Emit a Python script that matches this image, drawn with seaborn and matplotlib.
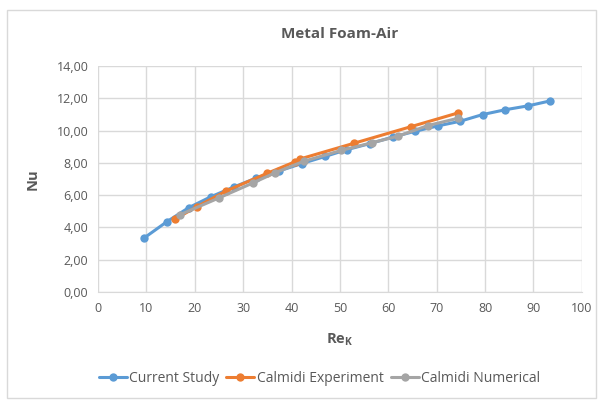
import pandas as pd
import seaborn as sns
import matplotlib.pyplot as plt
from matplotlib.patches import Rectangle
from matplotlib.ticker import FuncFormatter, MultipleLocator

# Values
re_current = [9.4, 14.2, 18.7, 23.3, 28.0, 32.7, 37.4, 42.1, 46.9, 51.4,
              56.2, 60.9, 65.5, 70.3, 74.8, 79.5, 84.2, 88.9, 93.5]
nu_current = [3.32, 4.35, 5.22, 5.9, 6.5, 7.06, 7.5, 7.96, 8.4, 8.82,
              9.2, 9.6, 9.96, 10.3, 10.58, 11.0, 11.3, 11.54, 11.85]

re_experiment = [15.8, 20.4, 26.4, 34.9, 40.7, 41.8, 52.9, 64.7, 74.4]
nu_experiment = [4.5, 5.28, 6.25, 7.35, 8.07, 8.25, 9.22, 10.25, 11.1]

re_numerical = [16.9, 24.9, 32.1, 36.6, 42.5, 50.3, 56.6, 62.0, 68.2, 74.4]
nu_numerical = [4.78, 5.82, 6.77, 7.39, 8.1, 8.78, 9.25, 9.66, 10.32, 10.77]

series_names = ["Current Study", "Calmidi Experiment", "Calmidi Numerical"]
colors = ["#5B9BD5", "#ED7D31", "#A5A5A5"]

# Build one long table for seaborn
frames = []
for name, xs, ys in zip(series_names,
                        [re_current, re_experiment, re_numerical],
                        [nu_current, nu_experiment, nu_numerical]):
    frames.append(pd.DataFrame({"Re": xs, "Nu": ys, "series": name}))
data = pd.concat(frames, ignore_index=True)

sns.set_style("white")
plt.rcParams["font.family"] = ["Open Sans", "DejaVu Sans"]

fig = plt.figure(figsize=(5.98, 4.01), dpi=100)
ax = fig.add_axes([0.164, 0.272, 0.809, 0.563])

sns.lineplot(data=data, x="Re", y="Nu", hue="series", hue_order=series_names,
             palette=colors, sort=False, marker="o", markersize=6,
             markeredgewidth=0, linewidth=2.2, ax=ax)

ax.set_xlim(0, 100)
ax.set_ylim(0, 14)
ax.xaxis.set_major_locator(MultipleLocator(10))
ax.yaxis.set_major_locator(MultipleLocator(2))
ax.yaxis.set_major_formatter(FuncFormatter(lambda v, p: f"{v:.2f}".replace(".", ",")))
ax.grid(True, color="#D9D9D9", linewidth=1)
ax.set_axisbelow(True)
for side in ["top", "right", "left"]:
    ax.spines[side].set_visible(False)
ax.spines["bottom"].set_color("#D9D9D9")
ax.tick_params(axis="both", length=0, labelsize=9, colors="#595959", pad=7)

ax.set_xlabel("Re$_\\mathregular{K}$", fontsize=10.5, fontweight="bold", color="#595959", labelpad=12)
ax.set_ylabel("Nu", fontsize=10.5, fontweight="bold", color="#595959", labelpad=12)
ax.set_title("Metal Foam-Air", fontsize=11, fontweight="bold", color="#595959", pad=20)

ax.legend(loc="upper center", bbox_to_anchor=(0.458, -0.295), ncol=3, frameon=False,
          fontsize=10, labelcolor="#595959", handlelength=2.0, columnspacing=0.5,
          handletextpad=0.2)

# light frame around the chart, as in the spreadsheet export
fig.patches.append(Rectangle((0.012, 0.008), 0.985, 0.967, transform=fig.transFigure,
                             fill=False, edgecolor="#D9D9D9", linewidth=1))

fig.savefig("out.png", dpi=100)
